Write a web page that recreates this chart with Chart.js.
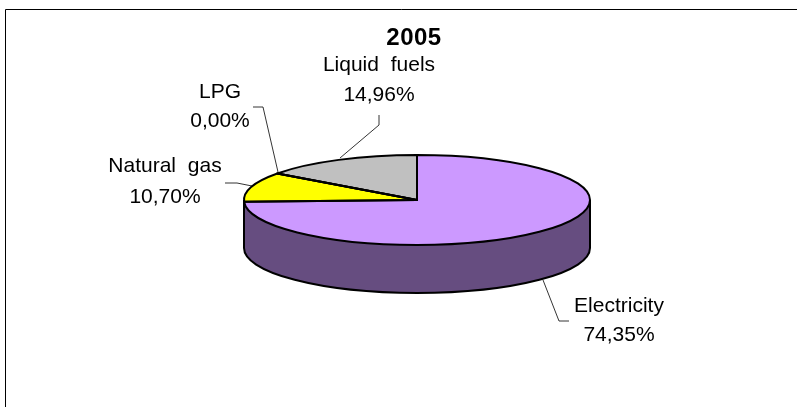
<!DOCTYPE html>
<html>
<head>
<meta charset="utf-8">
<style>
  body { margin: 0; background: #fff; }
  canvas { display: block; }
</style>
<script src="https://cdn.jsdelivr.net/npm/chart.js@4"></script>
</head>
<body>
<canvas id="myChart" width="797" height="407"></canvas>
<script>
// values
const title = '2005';
const categories = ['Electricity', 'Natural gas', 'LPG', 'Liquid fuels'];
const shares = [74.35, 10.70, 0.00, 14.96];
const shareLabels = ['74,35%', '10,70%', '0,00%', '14,96%'];
const topColors = ['#CC99FF', '#FFFF00', '#FF9900', '#C0C0C0'];
const wallColors = ['#664D80', '#808000', '#804D00', '#606060'];

const squash = 45 / 173; // flat look of the pie
const depth = 48;

// label centre x, baseline of first line, leader line
const labelSpots = [
  { x: 619, y: 312, y2: 341, leader: [[543, 280], [559, 321], [569, 321]] },
  { x: 165, y: 172, y2: 203, leader: [[225, 183], [237, 183], [252, 186]] },
  { x: 220, y: 98, y2: 127, leader: [[253, 107], [263, 107], [278, 172]] },
  { x: 379, y: 71, y2: 101, leader: [[379, 115], [379, 125], [340, 158]] }
];

const flatPie = {
  id: 'flatPie',
  beforeDatasetsDraw(chart) {
    const ctx = chart.ctx;
    const arcs = chart.getDatasetMeta(0).data;
    const { x, y, outerRadius: r } = arcs[0];
    const ry = r * squash;

    // frame of the original picture, only top and left show
    ctx.save();
    ctx.strokeStyle = '#000';
    ctx.lineWidth = 1;
    ctx.beginPath();
    ctx.moveTo(5.5, 407);
    ctx.lineTo(5.5, 9.5);
    ctx.lineTo(797, 9.5);
    ctx.stroke();
    ctx.restore();

    // side wall, only the front half of each slice can be seen
    ctx.save();
    arcs.forEach((arc, i) => {
      const from = Math.max(arc.startAngle, 0);
      const to = Math.min(arc.endAngle, Math.PI);
      if (to <= from) return;
      ctx.beginPath();
      ctx.ellipse(x, y, r, ry, 0, from, to);
      ctx.ellipse(x, y + depth, r, ry, 0, to, from, true);
      ctx.closePath();
      ctx.fillStyle = wallColors[i];
      ctx.fill();
    });
    ctx.strokeStyle = '#000';
    ctx.lineWidth = 2;
    ctx.beginPath();
    ctx.moveTo(x + r, y);
    ctx.lineTo(x + r, y + depth);
    ctx.ellipse(x, y + depth, r, ry, 0, 0, Math.PI);
    ctx.lineTo(x - r, y);
    ctx.stroke();
    ctx.restore();

    // squash the pie itself
    ctx.save();
    ctx.translate(0, y);
    ctx.scale(1, squash);
    ctx.translate(0, -y);
  },
  afterDatasetsDraw(chart) {
    const ctx = chart.ctx;
    ctx.restore();

    const arcs = chart.getDatasetMeta(0).data;
    const { x, y, outerRadius: r } = arcs[0];
    const ry = r * squash;

    ctx.save();
    ctx.strokeStyle = '#000';
    ctx.lineWidth = 2;
    ctx.lineJoin = 'round';
    arcs.forEach(arc => {
      ctx.beginPath();
      ctx.moveTo(x, y);
      ctx.ellipse(x, y, r, ry, 0, arc.startAngle, arc.endAngle);
      ctx.closePath();
      ctx.stroke();
    });
    ctx.restore();

    // leader lines
    ctx.save();
    ctx.strokeStyle = '#000';
    ctx.lineWidth = 0.8;
    labelSpots.forEach(spot => {
      ctx.beginPath();
      spot.leader.forEach((p, i) => i ? ctx.lineTo(p[0], p[1]) : ctx.moveTo(p[0], p[1]));
      ctx.stroke();
    });
    ctx.restore();

    // labels
    ctx.save();
    ctx.fillStyle = '#000';
    ctx.textAlign = 'center';
    ctx.textBaseline = 'alphabetic';
    ctx.font = '21px "Liberation Sans", Arial, sans-serif';
    ctx.wordSpacing = '6px';
    categories.forEach((name, i) => {
      const spot = labelSpots[i];
      ctx.fillText(name, spot.x, spot.y);
      ctx.fillText(shareLabels[i], spot.x, spot.y2);
    });
    ctx.wordSpacing = '0px';
    ctx.font = 'bold 24px "Liberation Sans", Arial, sans-serif';
    ctx.letterSpacing = '0.5px';
    ctx.fillText(title, 414, 45);
    ctx.restore();
  }
};

new Chart(document.getElementById('myChart'), {
  type: 'pie',
  data: {
    labels: categories,
    datasets: [{
      data: shares,
      backgroundColor: topColors,
      borderWidth: 0
    }]
  },
  options: {
    responsive: false,
    animation: false,
    rotation: 0,
    layout: { padding: { left: 244, right: 207, top: 27, bottom: 34 } },
    plugins: {
      legend: { display: false },
      tooltip: { enabled: false }
    }
  },
  plugins: [flatPie]
});
</script>
</body>
</html>
